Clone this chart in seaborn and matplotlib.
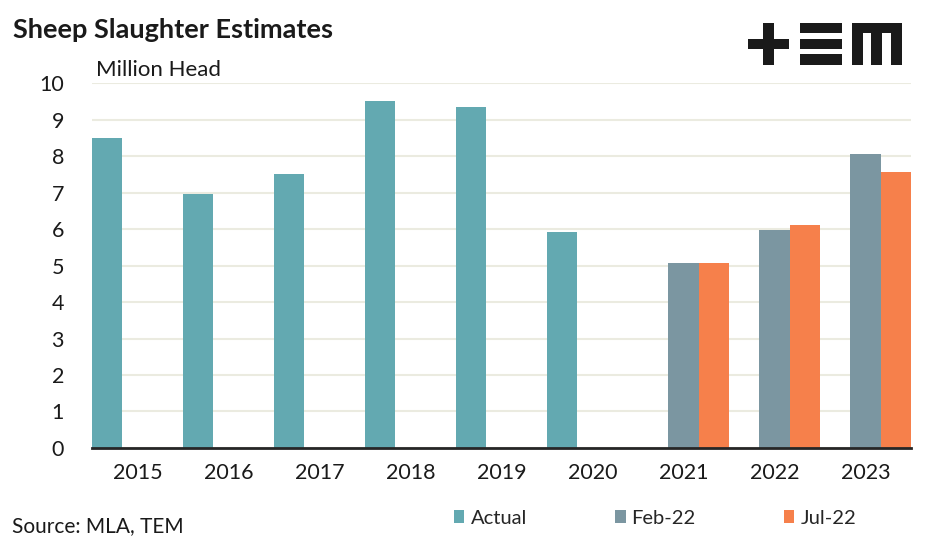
import pandas as pd
import numpy as np
import matplotlib
matplotlib.use('Agg')
import matplotlib.pyplot as plt
from matplotlib.patches import Rectangle, Patch
import seaborn as sns

years = ['2015', '2016', '2017', '2018', '2019', '2020', '2021', '2022', '2023']
actual = [8.5, 6.95, 7.5, 9.5, 9.35, 5.93]
feb22 = [5.07, 5.98, 8.05]
jul22 = [5.07, 6.1, 7.57]
series = ['Actual', 'Feb-22', 'Jul-22']
colors = ['#63A9B1', '#7B96A1', '#F6804B']

rows = []
for y, v in zip(years[:6], actual):
    rows.append((y, 'Actual', v))
for y, v in zip(years[6:], feb22):
    rows.append((y, 'Feb-22', v))
for y, v in zip(years[6:], jul22):
    rows.append((y, 'Jul-22', v))
df = pd.DataFrame(rows, columns=['year', 'series', 'value'])

sns.set_theme(style='white')
plt.rcParams['font.family'] = ['Lato', 'DejaVu Sans']

fig = plt.figure(figsize=(9.47, 5.43), dpi=100)
ax = fig.add_axes([0.097, 0.175, 0.865, 0.672])

sns.barplot(data=df, x='year', y='value', hue='series', order=years,
            hue_order=series, palette=colors, width=1.0, gap=0,
            dodge=True, saturation=1, edgecolor='none', legend=False, ax=ax)

ax.set_ylim(0, 10)
ax.set_xlim(-0.5, 8.5)
ax.set_yticks(range(0, 11))
ax.yaxis.grid(True, color='#EBEBE0', linewidth=1.5)
ax.set_axisbelow(True)
ax.set_xlabel('')
ax.set_ylabel('')
ax.tick_params(axis='both', labelsize=15.5, colors='#1a1a1a', length=0)
ax.tick_params(axis='x', pad=11)
ax.tick_params(axis='y', pad=20)
for s in ['top', 'right', 'left']:
    ax.spines[s].set_visible(False)
ax.spines['bottom'].set_color('#262626')
ax.spines['bottom'].set_linewidth(2)

fig.text(0.014, 0.945, 'Sheep Slaughter Estimates', fontsize=19.5, fontweight='bold',
         color='#1a1a1a', va='center')
fig.text(0.101, 0.871, 'Million Head', fontsize=16, color='#1a1a1a', va='center')
fig.text(0.013, 0.032, 'Source: MLA, TEM', fontsize=15, color='#1a1a1a', va='center')

# logo
W, H = 947, 543
def box(x0, y0, x1, y1):
    fig.patches.append(Rectangle((x0 / W, 1 - y1 / H), (x1 - x0) / W, (y1 - y0) / H,
                                 transform=fig.transFigure, color='#1a1a1a', lw=0))
box(748, 39, 789, 49)
box(763, 23, 774, 65)
box(800, 23, 842, 33)
box(800, 39, 842, 49)
box(800, 54, 842, 65)
box(852, 23, 902, 33)
box(852, 23, 863, 65)
box(871, 23, 882, 65)
box(891, 23, 902, 65)

handles = [Patch(facecolor=c, edgecolor='none') for c in colors]
fig.legend(handles, series, loc='center', bbox_to_anchor=(0.692, 0.046), ncol=3,
           frameon=False, fontsize=14.5, handlelength=0.5, handleheight=0.6,
           handletextpad=0.3, columnspacing=4.4)

fig.savefig('out.png', dpi=100)
